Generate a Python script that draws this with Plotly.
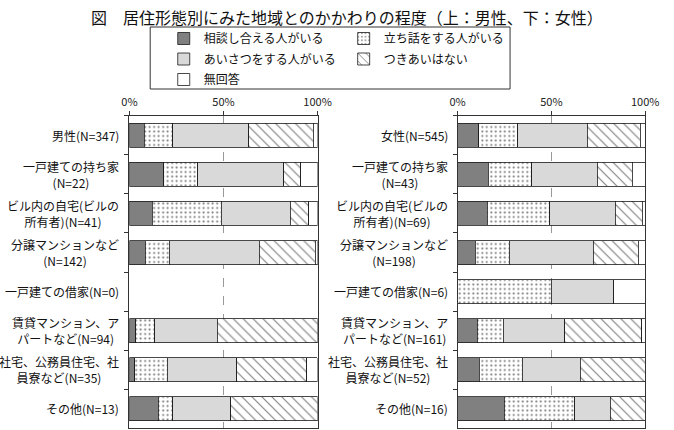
import plotly.graph_objects as go

# ---------------- data ----------------
series = ["相談し合える人がいる", "立ち話をする人がいる", "あいさつをする人がいる", "つきあいはない", "無回答"]

cats_male = ["男性(N=347)", "一戸建ての持ち家<br>(N=22)", "ビル内の自宅(ビルの<br>所有者)(N=41)",
             "分譲マンションなど<br>(N=142)", "一戸建ての借家(N=0)", "賃貸マンション、ア<br>パートなど(N=94)",
             "社宅、公務員住宅、社<br>員寮など(N=35)", "その他(N=13)"]
cats_female = ["女性(N=545)", "一戸建ての持ち家<br>(N=43)", "ビル内の自宅(ビルの<br>所有者)(N=69)",
               "分譲マンションなど<br>(N=198)", "一戸建ての借家(N=6)", "賃貸マンション、ア<br>パートなど(N=161)",
               "社宅、公務員住宅、社<br>員寮など(N=52)", "その他(N=16)"]

# percentages, one list per series (order follows categories)
male_soudan   = [7.8, 18.2, 12.2, 8.5, 0, 3.4, 2.9, 15.4]
male_tachi    = [15.3, 18.2, 36.6, 12.7, 0, 10.0, 17.1, 7.7]
male_aisatsu  = [40.4, 45.5, 36.6, 47.9, 0, 33.3, 37.1, 30.8]
male_nashi    = [34.3, 9.1, 9.8, 29.6, 0, 53.3, 37.1, 46.2]
male_mukaitou = [2.2, 9.1, 4.9, 1.4, 0, 0.0, 5.7, 0.0]

female_soudan   = [11.2, 16.3, 15.9, 9.5, 0, 10.6, 11.5, 25.0]
female_tachi    = [21.0, 23.3, 33.3, 18.0, 50.0, 13.7, 23.1, 37.5]
female_aisatsu  = [36.9, 34.9, 34.8, 44.8, 33.3, 32.9, 30.8, 18.8]
female_nashi    = [28.2, 18.6, 14.5, 24.1, 0, 41.0, 34.6, 18.8]
female_mukaitou = [2.7, 7.0, 1.4, 3.6, 16.7, 1.9, 0.0, 0.0]

male_vals = [male_soudan, male_tachi, male_aisatsu, male_nashi, male_mukaitou]
female_vals = [female_soudan, female_tachi, female_aisatsu, female_nashi, female_mukaitou]

tick_vals = [0, 50, 100]
tick_text = ["0%", "50%", "100%"]

title_text = "図　居住形態別にみた地域とのかかわりの程度（上：男性、下：女性）"

# ---------------- styles ----------------
FONT = "Noto Sans CJK JP"
OUT = "#1a1a1a"
styles = [
    dict(color="#808080"),
    dict(color="white", pattern=dict(shape=".", fgcolor="black", bgcolor="white", size=4.5, solidity=0.16)),
    dict(color="#d9d9d9"),
    dict(color="white", pattern=dict(shape="\\", fgcolor="black", bgcolor="white", size=7, solidity=0.16)),
    dict(color="white"),
]
legend_of = ["legend", "legend2", "legend", "legend2", "legend"]


def nz(vals):
    # zero-length segments are not drawn (avoid stray outlines)
    return [v if v else None for v in vals]


fig = go.Figure()
for i, name in enumerate(series):
    fig.add_trace(go.Bar(
        x=nz(male_vals[i]), y=cats_male, orientation="h", name=name,
        marker=dict(**styles[i], line=dict(color=OUT, width=0.8)),
        xaxis="x", yaxis="y", legend=legend_of[i], legendgroup=name, showlegend=True,
        hoverinfo="skip"))
for i, name in enumerate(series):
    fig.add_trace(go.Bar(
        x=nz(female_vals[i]), y=cats_female, orientation="h", name=name,
        marker=dict(**styles[i], line=dict(color=OUT, width=0.8)),
        xaxis="x2", yaxis="y2", legendgroup=name, showlegend=False,
        hoverinfo="skip"))

W, H = 674, 430
ydom = [(H - 428.3) / H, (H - 115.8) / H]

xcommon = dict(range=[0, 100], side="top", tickvals=tick_vals, ticktext=tick_text,
               ticks="outside", ticklen=4, tickcolor="#333", showline=True, linecolor="#333",
               linewidth=1, mirror=True, showgrid=True, gridcolor="#999", griddash="dash",
               gridwidth=0.8, zeroline=False, tickfont=dict(size=11, color="#222", family=FONT),
               fixedrange=True)
ycommon = dict(type="category", autorange="reversed", showticklabels=False, ticks="outside",
               tickson="boundaries", ticklen=4, tickcolor="#333", showline=True, linecolor="#333",
               linewidth=1, mirror=True, showgrid=False, fixedrange=True)

fig.update_layout(
    width=W, height=H,
    margin=dict(l=0, r=0, t=0, b=0),
    paper_bgcolor="white", plot_bgcolor="white",
    barmode="stack", bargap=0.385,
    font=dict(family=FONT, size=12, color="#111"),
    xaxis=dict(domain=[125.5 / W, 320 / W], anchor="y", **xcommon),
    yaxis=dict(domain=ydom, anchor="x", **ycommon),
    xaxis2=dict(domain=[464.7 / W, 658.7 / W], anchor="y2", **xcommon),
    yaxis2=dict(domain=ydom, anchor="x2", **ycommon),
    legend=dict(x=161 / W, y=1 - 24 / H, xanchor="left", yanchor="top", orientation="v",
                bgcolor="rgba(0,0,0,0)", borderwidth=0, tracegroupgap=1.5,
                font=dict(size=12, family=FONT, color="#111"), itemclick=False, itemdoubleclick=False),
    legend2=dict(x=347 / W, y=1 - 24 / H, xanchor="left", yanchor="top", orientation="v",
                 bgcolor="rgba(0,0,0,0)", borderwidth=0, tracegroupgap=1.5,
                 font=dict(size=12, family=FONT, color="#111"), itemclick=False, itemdoubleclick=False),
    shapes=[dict(type="rect", xref="paper", yref="paper",
                 x0=147 / W, x1=519 / W, y0=1 - 89 / H, y1=1 - 27 / H,
                 line=dict(color="#333", width=1), fillcolor="rgba(0,0,0,0)", layer="below")],
)

annotations = [dict(text=title_text, xref="paper", yref="paper", x=350 / W, y=1 - 17 / H,
                    xanchor="center", yanchor="middle", showarrow=False,
                    font=dict(size=16, family=FONT, color="#111"))]
for cats, xr, yr in [(cats_male, "x domain", "y"), (cats_female, "x2 domain", "y2")]:
    for c in cats:
        annotations.append(dict(text=c, xref=xr, yref=yr, x=0, y=c, xanchor="right", yanchor="middle",
                                xshift=-8, align="center", showarrow=False,
                                font=dict(size=12, family=FONT, color="#111")))
fig.update_layout(annotations=annotations)

fig.write_html("out.html")
